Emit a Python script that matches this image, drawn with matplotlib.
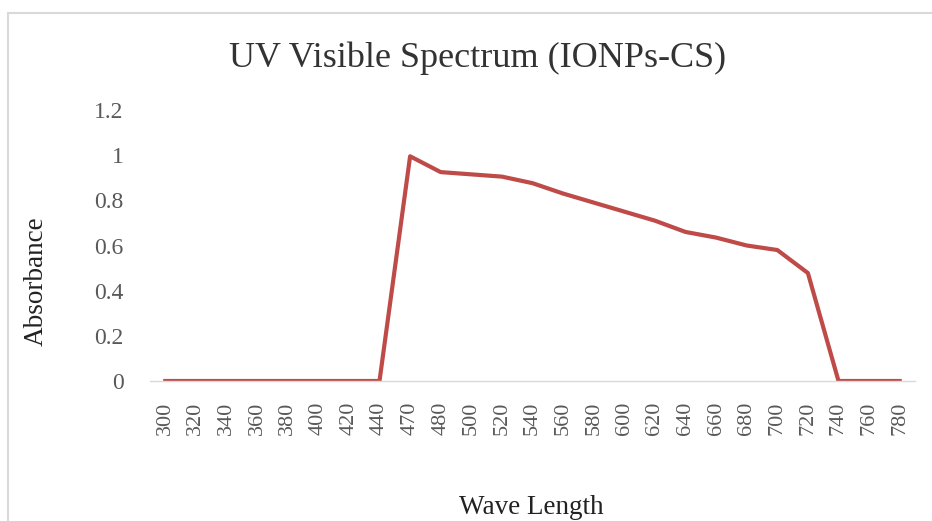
import matplotlib
matplotlib.use("Agg")
import matplotlib.pyplot as plt
from matplotlib.patches import Rectangle

wavelengths = ["300", "320", "340", "360", "380", "400", "420", "440", "470", "480",
               "500", "520", "540", "560", "580", "600", "620", "640", "660", "680",
               "700", "720", "740", "760", "780"]
absorbance = [0, 0, 0, 0, 0, 0, 0, 0, 0.995, 0.925,
              0.915, 0.905, 0.876, 0.83, 0.79, 0.75, 0.71, 0.66, 0.635, 0.60,
              0.58, 0.478, 0, 0, 0]
y_ticks = [0, 0.2, 0.4, 0.6, 0.8, 1, 1.2]
y_tick_labels = ["0", "0.2", "0.4", "0.6", "0.8", "1", "1.2"]

W, H = 932, 521
fig = plt.figure(figsize=(W / 100, H / 100), dpi=100)
fig.patch.set_facecolor("white")

# outer frame
fig.patches.append(Rectangle((8 / W, -0.05), 1.2, 1 - 13 / H + 0.05,
                             transform=fig.transFigure, fill=False,
                             edgecolor="#d9d9d9", linewidth=1.5))

ax = fig.add_axes([150 / W, (H - 381) / H, (915 - 150) / W, (381 - 110) / H])
x = list(range(len(wavelengths)))
ax.plot(x, absorbance, color="#BE4B48", linewidth=3.0, solid_joinstyle="round")
ax.set_xlim(-0.5, len(wavelengths) - 0.5)
ax.set_ylim(0, 1.2)
ax.set_xticks(x)
ax.set_xticklabels(wavelengths, rotation=90, fontsize=16, color="#595959",
                   family="Liberation Serif")
ax.set_yticks(y_ticks)
ax.set_yticklabels(y_tick_labels, fontsize=17, color="#595959", family="Liberation Serif")
for s in ["top", "right", "left"]:
    ax.spines[s].set_visible(False)
ax.spines["bottom"].set_color("#d9d9d9")
ax.spines["bottom"].set_linewidth(1)
ax.tick_params(axis="y", length=0, pad=19)
ax.tick_params(axis="x", length=0, pad=15)

fig.text(478 / W, 1 - 58 / H, "UV Visible Spectrum (IONPs-CS)", ha="center", va="center",
         fontsize=26, family="Liberation Serif", color="#333333")
fig.text(36 / W, 1 - 281 / H, "Absorbance", ha="center", va="center", rotation=90,
         fontsize=19.5, family="Liberation Serif", color="#222222")
fig.text(531 / W, 1 - 507 / H, "Wave Length", ha="center", va="center",
         fontsize=19.5, family="Liberation Serif", color="#222222")

fig.savefig("out.png", dpi=100, facecolor="white")
